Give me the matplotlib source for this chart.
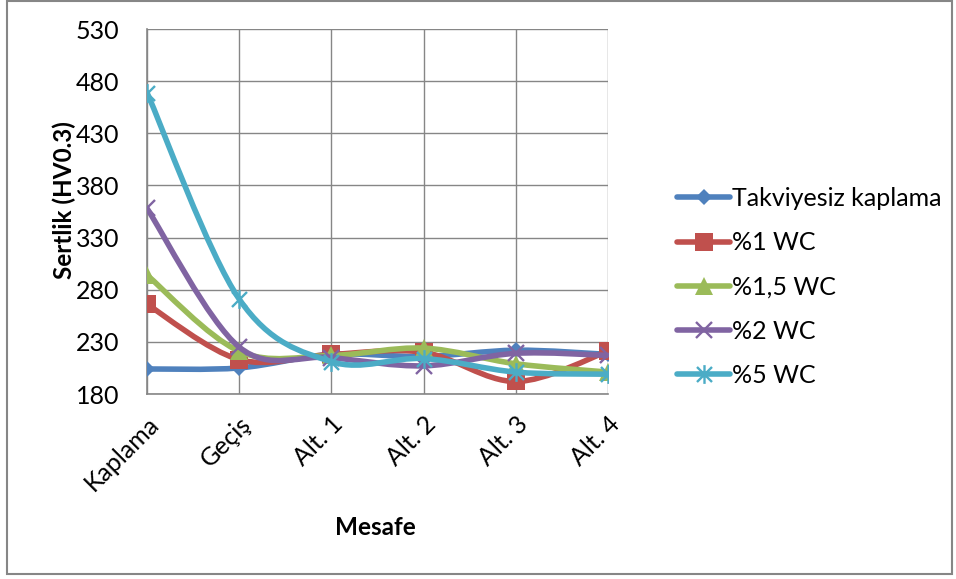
import numpy as np
import matplotlib
matplotlib.use("Agg")
import matplotlib.pyplot as plt
from matplotlib.path import Path
from matplotlib.patches import PathPatch, Rectangle
from matplotlib.lines import Line2D

plt.rcParams['font.family'] = ['Lato', 'DejaVu Sans']

# hardness along the depth of the coating
mesafe = ["Kaplama", "Geçiş", "Alt. 1", "Alt. 2", "Alt. 3", "Alt. 4"]
takviyesiz = [204, 205, 218, 216, 222, 218]
wc_1 = [266, 213, 218, 220, 192, 221]
wc_15 = [294, 221, 217, 224, 209, 201]
wc_2 = [358, 225, 215, 207, 219, 217]
wc_5 = [469, 271, 211, 214, 201, 199]

labels = ["Takviyesiz kaplama", "%1 WC", "%1,5 WC", "%2 WC", "%5 WC"]
series = [takviyesiz, wc_1, wc_15, wc_2, wc_5]
colors = ["#4F81BD", "#C0504D", "#9BBB59", "#8064A2", "#4BACC6"]

# asterisk marker: an X with a vertical bar through it
star = Path([(-1, -1), (1, 1), (-1, 1), (1, -1), (0, -1.25), (0, 1.25)],
            [Path.MOVETO, Path.LINETO] * 3)
markers = [dict(marker="D", ms=8, mew=0),
           dict(marker="s", ms=12.5, mew=0),
           dict(marker="^", ms=12.5, mew=0),
           dict(marker="x", ms=12, mew=1.7),
           dict(marker=star, ms=13.5, mew=1.7)]


def smooth_path(x, y):
    # Catmull-Rom curve written as cubic bezier segments
    p = np.column_stack([x, y]).astype(float)
    n = len(p)
    verts = [p[0]]
    codes = [Path.MOVETO]
    for i in range(n - 1):
        p0 = p[max(i - 1, 0)]
        p1 = p[i]
        p2 = p[i + 1]
        p3 = p[min(i + 2, n - 1)]
        verts += [p1 + (p2 - p0) / 6, p2 - (p3 - p1) / 6, p2]
        codes += [Path.CURVE4] * 3
    return Path(verts, codes)


fig = plt.figure(figsize=(9.56, 5.79), dpi=100)
ax = fig.add_axes([147 / 956, 1 - 394 / 579, 461 / 956, 365 / 579])

x = np.arange(len(mesafe))
handles = []
for k, (vals, lab, c, mk) in enumerate(zip(series, labels, colors, markers)):
    patch = PathPatch(smooth_path(x, vals), fill=False, edgecolor=c, lw=4.0,
                      capstyle="round", joinstyle="round", zorder=3 + 2 * k)
    ax.add_patch(patch)
    ax.plot(x, vals, ls="none", color=c, mec=c, zorder=4 + 2 * k, **mk)
    handles.append(Line2D([], [], color=c, lw=4.0, mec=c,
                          solid_capstyle="round", **mk))

ax.set_xlim(0, 5)
ax.set_ylim(180, 530)
ax.set_yticks(np.arange(180, 531, 50))
ax.set_xticks(x)
ax.set_xticklabels(mesafe, rotation=45, ha="right", rotation_mode="anchor")
ax.tick_params(length=0, labelsize=18)
ax.tick_params(axis="y", pad=20)
ax.tick_params(axis="x", pad=13)

ax.grid(True, color="#868686", lw=1.0)
ax.set_axisbelow(True)
for side in ["top", "right"]:
    ax.spines[side].set_visible(False)
for side in ["left", "bottom"]:
    ax.spines[side].set_color("#868686")
    ax.spines[side].set_linewidth(1.2)

ax.set_ylabel("Sertlik (HV0.3)", fontsize=17.5, fontweight="bold")
ax.yaxis.set_label_coords(-0.18, 0.53)
ax.yaxis.label.set_va("center")
ax.set_xlabel("Mesafe", fontsize=17.5, fontweight="bold")
ax.xaxis.set_label_coords(0.495, -0.365)
ax.xaxis.label.set_va("center")

fig.legend(handles, labels, loc="center left", bbox_to_anchor=(0.698, 0.504),
           frameon=False, fontsize=18, handlelength=2.1, handletextpad=0.1,
           labelspacing=0.85, borderaxespad=0)

fig.patches.append(Rectangle((0.007, 0.009), 0.989, 0.989, transform=fig.transFigure,
                             fill=False, edgecolor="#868686", lw=1.5))

fig.savefig("out.png", dpi=100)
